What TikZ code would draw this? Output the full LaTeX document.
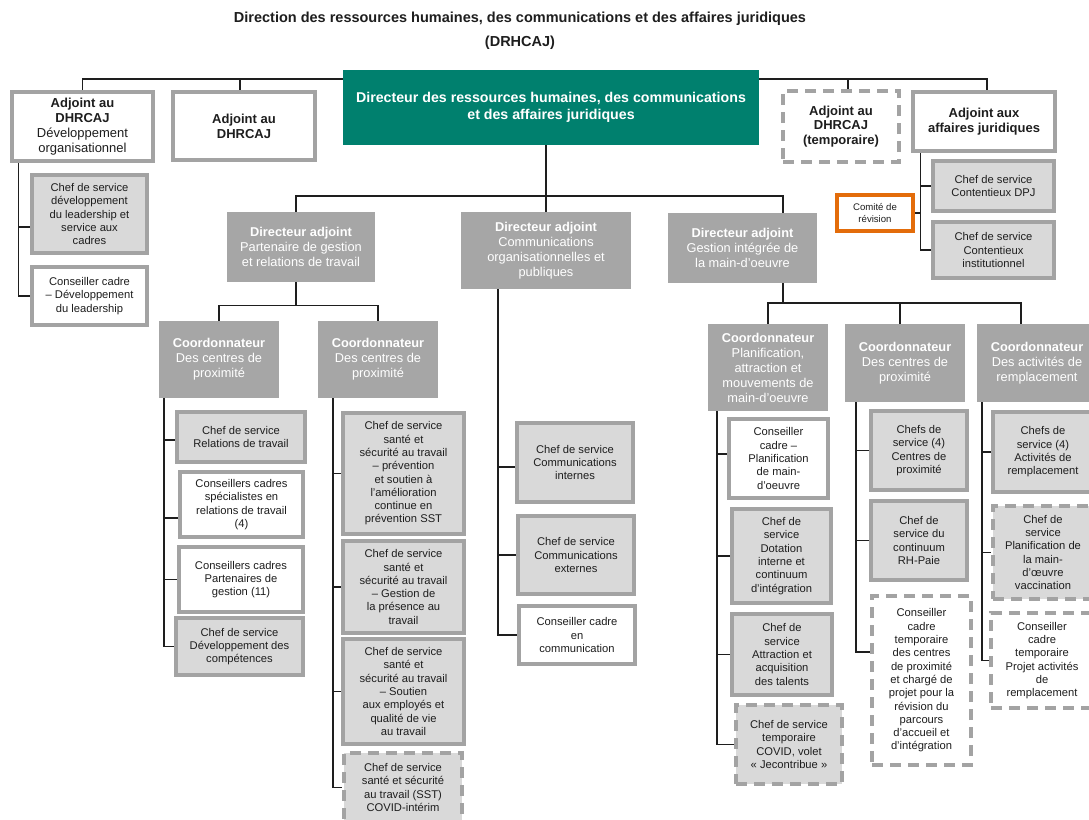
\documentclass[tikz,border=0pt]{standalone}
\usepackage{fontspec}
\setmainfont{Liberation Sans}
\usetikzlibrary{backgrounds}
\definecolor{dirteal}{HTML}{00806E}
\definecolor{midgrey}{HTML}{A6A6A6}
\definecolor{lightgrey}{HTML}{D9D9D9}
\definecolor{edgegrey}{HTML}{A3A3A3}
\definecolor{revorange}{HTML}{E36C0A}
\definecolor{ink}{HTML}{1E1E1E}
\begin{document}
\begin{tikzpicture}[x=1pt,y=-1pt,
  cell/.style={inner sep=0pt, align=center, text=ink, font=\fontsize{11.2}{13.3}\selectfont},
  sz/.style 2 args={minimum width=#1pt, minimum height=#2pt},
  whitebox/.style={cell, fill=white, draw=edgegrey, line width=3.2pt},
  lightbox/.style={cell, fill=lightgrey, draw=edgegrey, line width=3.2pt},
  dashbox/.style={dash pattern=on 11pt off 7pt},
  greybox/.style={cell, fill=midgrey, text=white, font=\fontsize{12.8}{15}\selectfont},
  topbox/.style={whitebox, font=\fontsize{13}{14.8}\selectfont},
  link/.style={draw=ink, line width=1.5pt}]
\useasboundingbox (0,0) rectangle (1089,819);

% title
\node[cell, font=\fontsize{14.5}{24}\selectfont\bfseries] (title) at (520,31)
  {Direction des ressources humaines, des communications et des affaires juridiques\\(DRHCAJ)};

% top level
\node[topbox, sz={141}{69}] (a1) at (82.5,126.5) {\textbf{Adjoint au}\\\textbf{DHRCAJ}\\Développement\\organisationnel};
\node[topbox, sz={142}{68}] (a2) at (244,126) {\textbf{Adjoint au}\\\textbf{DHRCAJ}};
\node[cell, fill=dirteal, text=white, sz={416}{75}, font=\fontsize{14.2}{17.5}\selectfont\bfseries] (dir) at (551,107.5)
  {Directeur des ressources humaines, des communications\\et des affaires juridiques};
\node[topbox, dashbox, sz={116}{71}] (a3) at (841,126.5) {\textbf{Adjoint au}\\\textbf{DHRCAJ}\\\textbf{(temporaire)}};
\node[topbox, sz={142}{59}] (a4) at (984,121.5) {\textbf{Adjoint aux}\\\textbf{affaires juridiques}};

% organisational development
\node[lightbox, sz={115}{78}] (l1) at (89.5,214) {Chef de service\\développement\\du leadership et\\service aux\\cadres};
\node[whitebox, sz={115}{58}] (l2) at (89.5,296) {Conseiller cadre\\– Développement\\du leadership};

% legal affairs
\node[lightbox, sz={121}{50}] (j1) at (993.5,186) {Chef de service\\Contentieux DPJ};
\node[lightbox, sz={121}{56}] (j2) at (993.5,250) {Chef de service\\Contentieux\\institutionnel};
\node[cell, fill=white, draw=revorange, line width=3.2pt, sz={76}{36}, font=\fontsize{9.6}{12}\selectfont] (rev) at (875,213) {Comité de\\révision};

% deputy directors
\node[greybox, sz={148}{70}] (da1) at (301,247) {\textbf{Directeur adjoint}\\Partenaire de gestion\\et relations de travail};
\node[greybox, sz={170}{77}] (da2) at (546,250.5) {\textbf{Directeur adjoint}\\Communications\\organisationnelles et\\publiques};
\node[greybox, sz={149}{70}] (da3) at (742.5,248) {\textbf{Directeur adjoint}\\Gestion intégrée de\\la main-d'oeuvre};

% coordinators
\node[greybox, sz={120}{77}] (c1) at (219,359.5) {\textbf{Coordonnateur}\\Des centres de\\proximité};
\node[greybox, sz={120}{77}] (c2) at (378,359.5) {\textbf{Coordonnateur}\\Des centres de\\proximité};
\node[greybox, sz={120}{87}] (c3) at (768,367.5) {\textbf{Coordonnateur}\\Planification,\\attraction et\\mouvements de\\main-d'oeuvre};
\node[greybox, sz={120}{78}] (c4) at (905,363) {\textbf{Coordonnateur}\\Des centres de\\proximité};
\node[greybox, sz={120}{78}] (c5) at (1037,363) {\textbf{Coordonnateur}\\Des activités de\\remplacement};

% labour relations
\node[lightbox, sz={128}{50}] (r1) at (241,437) {Chef de service\\Relations de travail};
\node[whitebox, sz={123}{65}] (r2) at (241.5,504.5) {Conseillers cadres\\spécialistes en\\relations de travail\\(4)};
\node[whitebox, sz={124}{65}] (r3) at (241,579.5) {Conseillers cadres\\Partenaires de\\gestion (11)};
\node[lightbox, sz={127}{57}] (r4) at (239.5,646.5) {Chef de service\\Développement des\\compétences};

% health and safety
\node[lightbox, sz={121}{121}] (s1) at (403.5,473.5) {Chef de service\\santé et\\sécurité au travail\\– prévention\\et soutien à\\l’amélioration\\continue en\\prévention SST};
\node[lightbox, sz={121}{92}] (s2) at (403.5,587) {Chef de service\\santé et\\sécurité au travail\\– Gestion de\\la présence au\\travail};
\node[lightbox, sz={121}{105}] (s3) at (403.5,691.5) {Chef de service\\santé et\\sécurité au travail\\– Soutien\\aux employés et\\qualité de vie\\au travail};
\node[lightbox, dashbox, sz={118}{69}] (s4) at (403,787.5) {Chef de service\\santé et sécurité\\au travail (SST)\\COVID-intérim};

% communications
\node[lightbox, sz={116}{79}] (d1) at (575,462.5) {Chef de service\\Communications\\internes};
\node[lightbox, sz={116}{78}] (d2) at (576,555) {Chef de service\\Communications\\externes};
\node[whitebox, sz={116}{58}] (d3) at (577,635) {Conseiller cadre\\en\\communication};

% workforce planning
\node[whitebox, sz={99}{79}] (k1) at (778.5,458.5) {Conseiller\\cadre –\\Planification\\de main-\\d’oeuvre};
\node[lightbox, sz={99}{94}] (k2) at (781.5,556) {Chef de\\service\\Dotation\\interne et\\continuum\\d’intégration};
\node[lightbox, sz={100}{81}] (k3) at (782,654.5) {Chef de\\service\\Attraction et\\acquisition\\des talents};
\node[lightbox, dashbox, sz={106}{79}] (k4) at (789,744.5) {Chef de service\\temporaire\\COVID, volet\\« Jecontribue »};

% proximity centres
\node[lightbox, sz={96}{79}] (q1) at (919,450.5) {Chefs de\\service (4)\\Centres de\\proximité};
\node[lightbox, sz={96}{79}] (q2) at (919,540.5) {Chef de\\service du\\continuum\\RH-Paie};
\node[whitebox, dashbox, sz={99}{169}] (q3) at (921.5,680.5) {Conseiller\\cadre\\temporaire\\des centres\\de proximité\\et chargé de\\projet pour la\\révision du\\parcours\\d’accueil et\\d’intégration};

% replacement activities
\node[lightbox, sz={100}{80}] (p1) at (1043,452) {Chefs de\\service (4)\\Activités de\\remplacement};
\node[lightbox, dashbox, sz={100}{93}] (p2) at (1043,552.5) {Chef de\\service\\Planification de\\la main-\\d’œuvre\\vaccination};
\node[whitebox, dashbox, sz={102}{95}] (p3) at (1042,660.5) {Conseiller\\cadre\\temporaire\\Projet activités\\de\\remplacement};

% connectors, drawn behind the boxes
\begin{scope}[on background layer]
\fill[white] (0,0) rectangle (1089,819);
% top row bus
\coordinate (topbus) at (0,79);
\coordinate (a2top) at ([xshift=-4pt]a2.north);
\coordinate (a3top) at ([xshift=7pt]a3.north);
\coordinate (a4top) at ([xshift=3pt]a4.north);
\draw[link] (a1.north) -- (a1.north |- topbus) -- (a4top |- topbus) -- (a4top);
\draw[link] (a2top) -- (a2top |- topbus);
\draw[link] (a3top) -- (a3top |- topbus);
% director to deputy directors
\coordinate (dirbus) at (0,196);
\coordinate (da1top) at ([xshift=-5pt]da1.north);
\coordinate (da3top) at ([xshift=40.5pt]da3.north);
\draw[link] (da2.north |- dir.south) -- (da2.north);
\draw[link] (da1top) -- (da1top |- dirbus) -- (da3top |- dirbus) -- (da3top);
% deputy 1 to coordinators
\coordinate (da1bus) at (0,305.5);
\coordinate (da1bot) at ([xshift=-5pt]da1.south);
\draw[link] (da1bot) -- (da1bot |- da1bus);
\draw[link] (c1.north) -- (c1.north |- da1bus) -- (c2.north |- da1bus) -- (c2.north);
% deputy 3 to coordinators
\coordinate (da3bus) at (0,303);
\coordinate (da3bot) at ([xshift=40.5pt]da3.south);
\coordinate (c4top) at ([xshift=-5pt]c4.north);
\coordinate (c5top) at ([xshift=-16pt]c5.north);
\draw[link] (da3bot) -- (da3bot |- da3bus);
\draw[link] (c3.north) -- (c3.north |- da3bus) -- (c5top |- da3bus) -- (c5top);
\draw[link] (c4top) -- (c4top |- da3bus);
% organisational development spine
\coordinate (a1sp) at ([xshift=8pt]a1.south west);
\draw[link] (a1sp) |- ([yshift=-13pt]l1.west);
\draw[link] (a1sp) |- (l2.west);
% legal affairs spine
\coordinate (a4sp) at ([xshift=9pt]a4.south west);
\draw[link] (a4sp) |- (j1.west);
\draw[link] (a4sp) |- (j2.west);
\draw[link] (rev.east) -- (rev.east -| a4sp);
% coordinator 1
\coordinate (c1sp) at ([xshift=5pt]c1.south west);
\draw[link] (c1sp) |- ([yshift=-3pt]r1.west);
\draw[link] (c1sp) |- ([yshift=-13.5pt]r2.west);
\draw[link] (c1sp) |- (r3.west);
\draw[link] (c1sp) |- (r4.west);
% coordinator 2
\coordinate (c2sp) at ([xshift=15pt]c2.south west);
\draw[link] (c2sp) |- (s1.west);
\draw[link] (c2sp) |- (s2.west);
\draw[link] (c2sp) |- (s3.west);
\draw[link] (c2sp) |- (s4.west);
% communications
\coordinate (da2sp) at ([xshift=-48pt]da2.south);
\draw[link] (da2sp) |- ([yshift=-4.5pt]d1.west);
\draw[link] (da2sp) |- (d2.west);
\draw[link] (da2sp) |- (d3.west);
% coordinator 3
\coordinate (c3sp) at ([xshift=9pt]c3.south west);
\draw[link] (c3sp) |- ([yshift=4.5pt]k1.west);
\draw[link] (c3sp) |- (k2.west);
\draw[link] (c3sp) |- (k3.west);
\draw[link] (c3sp) |- (k4.west);
% coordinator 4
\coordinate (c4sp) at ([xshift=11pt]c4.south west);
\draw[link] (c4sp) |- (q1.west);
\draw[link] (c4sp) |- (q2.west);
\draw[link] (c4sp) |- ([yshift=28.5pt]q3.west);
% coordinator 5
\coordinate (c5sp) at ([xshift=5pt]c5.south west);
\draw[link] (c5sp) |- (p1.west);
\draw[link] (c5sp) |- (p2.west);
\draw[link] (c5sp) |- (p3.west);
\end{scope}
\end{tikzpicture}
\end{document}
